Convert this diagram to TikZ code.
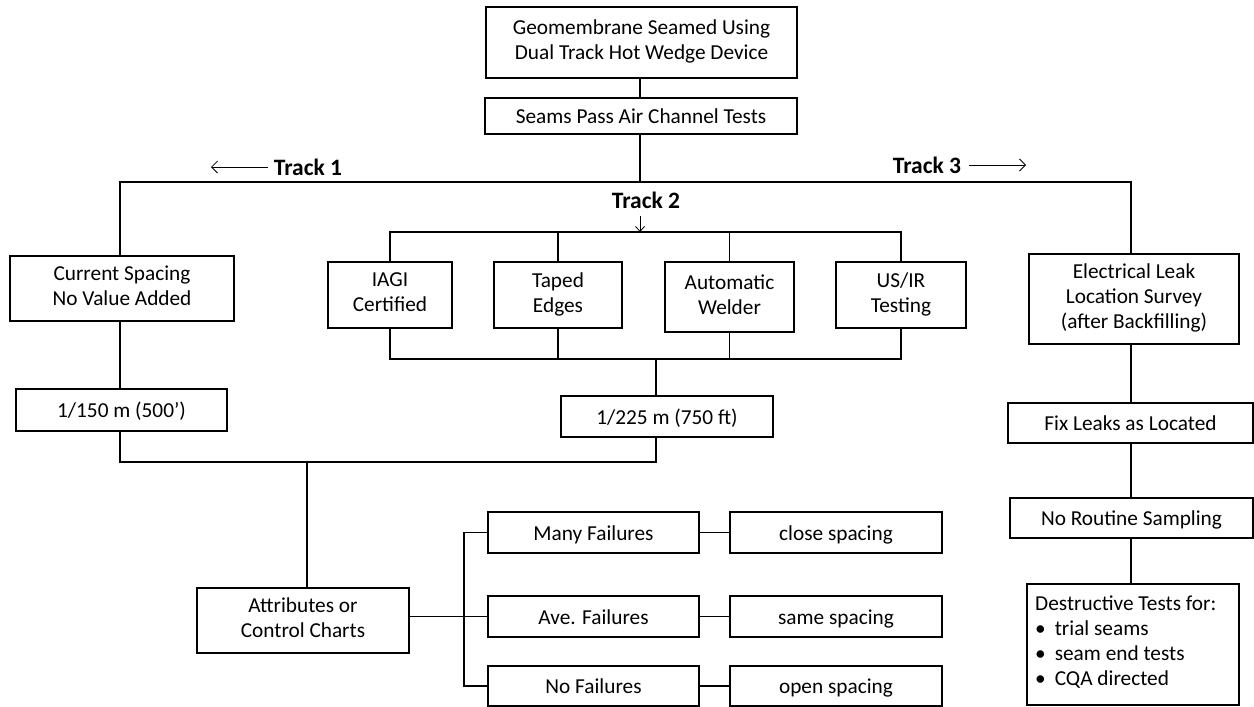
\documentclass[tikz,border=0pt]{standalone}
\usepackage{fontspec}
\setmainfont{Carlito}
\usetikzlibrary{arrows.meta}
\begin{document}
\begin{tikzpicture}[x=1pt,y=-1pt,
  every node/.style={font=\fontsize{21.3}{25}\selectfont},
  box/.style={draw, line width=1.1pt, inner sep=0pt, align=center,
    execute at begin node=\rule{0pt}{20pt}, execute at end node=\rule[-5pt]{0pt}{5pt}},
  conn/.style={line width=1.1pt},
  lbl/.style={font=\fontsize{23.5}{25}\selectfont\bfseries, inner sep=0pt},
  tarrow/.style={line width=0.8pt, -{Straight Barb[length=6pt,width=12pt]}}]
\useasboundingbox (0,0) rectangle (1254,707);

% boxes
\node[box, minimum width=311, minimum height=71] (top) at (641.5,42.5) {Geomembrane Seamed Using\\Dual Track Hot Wedge Device};
\node[box, minimum width=312, minimum height=36] (air) at (641,116) {Seams Pass Air Channel Tests};
\node[box, minimum width=224, minimum height=65] (cur) at (122,288.5) {Current Spacing\\No Value Added};
\node[box, minimum width=124, minimum height=66] (iagi) at (390,295) {IAGI\\Certified};
\node[box, minimum width=128, minimum height=66] (taped) at (558,295) {Taped\\Edges};
\node[box, minimum width=129, minimum height=70] (auto) at (729.5,297) {Automatic\\Welder};
\node[box, minimum width=130, minimum height=66] (usir) at (901,295) {US/IR\\Testing};
\node[box, minimum width=210, minimum height=90] (elec) at (1134,299) {Electrical Leak\\Location Survey\\(after Backfilling)};
\node[box, minimum width=211, minimum height=42] (b150) at (121.5,410) {1/150 m (500’)};
\node[box, minimum width=212, minimum height=41] (b225) at (667,416.5) {1/225 m (750 ft)};
\node[box, minimum width=212, minimum height=65] (attr) at (303,620.5) {Attributes or\\Control Charts};
\node[box, minimum width=211, minimum height=41] (many) at (593.5,532.5) {Many Failures};
\node[box, minimum width=211, minimum height=41] (ave) at (593.5,616.5) {Ave. Failures};
\node[box, minimum width=211, minimum height=40] (nof) at (593.5,686) {No Failures};
\node[box, minimum width=212, minimum height=41] (close) at (836,532.5) {close spacing};
\node[box, minimum width=212, minimum height=41] (same) at (836,616.5) {same spacing};
\node[box, minimum width=212, minimum height=40] (open) at (836,686) {open spacing};
\node[box, minimum width=245, minimum height=40] (fix) at (1130.5,423) {Fix Leaks as Located};
\node[box, minimum width=243, minimum height=40] (norout) at (1131.5,518) {No Routine Sampling};
\node[box, minimum width=212, minimum height=121] (dest) at (1133,644.5) {};
\node[inner sep=0pt, align=left, anchor=north west] (destt) at (1035,592.5) {\strut Destructive Tests for:\\
\textbullet\hspace{9pt}trial seams\\
\textbullet\hspace{9pt}seam end tests\\
\textbullet\hspace{9pt}CQA directed};

% labels
\node[lbl] (t1) at (308,167) {Track 1};
\node[lbl] (t2) at (646,200) {Track 2};
\node[lbl] (t3) at (927,165) {Track 3};
\coordinate (t1a) at (211,167);
\coordinate (t3a) at (1026,165);
\draw[tarrow] (t1.west) ++(-6,0) -- (t1a);
\draw[tarrow] (t3.east) ++(8,0) -- (t3a);

% coordinates
\coordinate (tL) at (120,182);
\coordinate (tM) at (640,182);
\coordinate (tR) at (1131,182);
\coordinate (b2) at (640,232);
\coordinate (b3) at (656,359);
\coordinate (jl) at (120,462);
\coordinate (j) at (656,462);
\coordinate (ja) at (307,462);
\coordinate (vb) at (464,0);

% connectors
\draw[conn] (top.south -| tM) -- (air.north -| tM);
\draw[conn] (air.south -| tM) -- (tM);
\draw[conn] (cur.north -| tL) -- (tL) -- (tR) -- (elec.north -| tR);
\draw[line width=0.8pt, -{Straight Barb[length=5pt,width=9pt]}] (640,216) -- (b2);
\draw[conn] (iagi.north) |- (usir.north |- b2) -- (usir.north);
\draw[conn] (taped.north) -- (taped.north |- b2);
\draw[conn] (auto.north) -- (auto.north |- b2);
\draw[conn] (iagi.south) |- (usir.south |- b3) -- (usir.south);
\draw[conn] (taped.south) -- (taped.south |- b3);
\draw[conn] (auto.south) -- (auto.south |- b3);
\draw[conn] (b3) -- (b225.north -| b3);
\draw[conn] (cur.south -| jl) -- (b150.north -| jl);
\draw[conn] (b150.south -| jl) -- (jl) -- (j) -- (b225.south -| j);
\draw[conn] (ja) -- (attr.north -| ja);
\draw[conn] (attr.east |- ave.west) -- (ave.west);
\draw[conn] (many.west) -| (vb |- nof.west) -- (nof.west);
\draw[conn] (many) -- (close);
\draw[conn] (ave) -- (same);
\draw[conn] (nof) -- (open);
\draw[conn] (elec.south -| tR) -- (fix.north -| tR);
\draw[conn] (fix.south -| tR) -- (norout.north -| tR);
\draw[conn] (norout.south -| tR) -- (dest.north -| tR);
\end{tikzpicture}
\end{document}
